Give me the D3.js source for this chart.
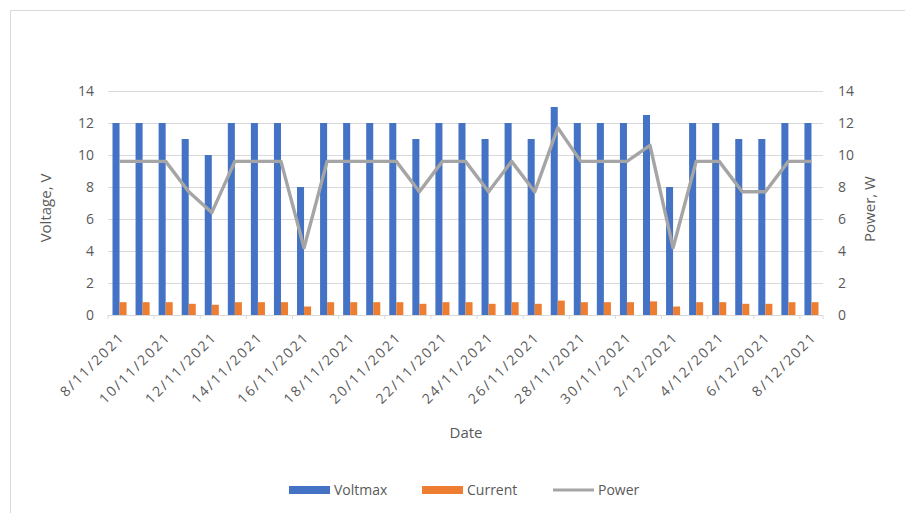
<!DOCTYPE html>
<html>
<head>
<meta charset="utf-8">
<script src="https://cdn.jsdelivr.net/npm/d3@7/dist/d3.min.js"></script>
<style>
  html, body { margin: 0; padding: 0; background: #fff; }
  svg { display: block; }
  text { font-family: "Open Sans", "Liberation Sans", sans-serif; fill: #595959; }
</style>
</head>
<body>
<svg id="chart" width="905" height="513"></svg>
<script>
// Daily measurements, 8 Nov 2021 – 8 Dec 2021
const dates = [
  "8/11/2021", "9/11/2021", "10/11/2021", "11/11/2021", "12/11/2021", "13/11/2021",
  "14/11/2021", "15/11/2021", "16/11/2021", "17/11/2021", "18/11/2021", "19/11/2021",
  "20/11/2021", "21/11/2021", "22/11/2021", "23/11/2021", "24/11/2021", "25/11/2021",
  "26/11/2021", "27/11/2021", "28/11/2021", "29/11/2021", "30/11/2021", "1/12/2021",
  "2/12/2021", "3/12/2021", "4/12/2021", "5/12/2021", "6/12/2021", "7/12/2021", "8/12/2021"
];
const voltmax = [12, 12, 12, 11, 10, 12, 12, 12, 8, 12, 12, 12, 12, 11, 12, 12, 11, 12, 11, 13,
                 12, 12, 12, 12.5, 8, 12, 12, 11, 11, 12, 12];
const current = [0.8, 0.8, 0.8, 0.7, 0.64, 0.8, 0.8, 0.8, 0.53, 0.8, 0.8, 0.8, 0.8, 0.7, 0.8, 0.8,
                 0.7, 0.8, 0.7, 0.9, 0.8, 0.8, 0.8, 0.85, 0.53, 0.8, 0.8, 0.7, 0.7, 0.8, 0.8];
const power = [9.6, 9.6, 9.6, 7.7, 6.4, 9.6, 9.6, 9.6, 4.2, 9.6, 9.6, 9.6, 9.6, 7.7, 9.6, 9.6,
               7.7, 9.6, 7.7, 11.7, 9.6, 9.6, 9.6, 10.6, 4.2, 9.6, 9.6, 7.7, 7.7, 9.6, 9.6];
const yTicks = [0, 2, 4, 6, 8, 10, 12, 14];
const seriesNames = ["Voltmax", "Current", "Power"];
const colors = { Voltmax: "#4472C4", Current: "#ED7D31", Power: "#A5A5A5" };

const svg = d3.select("#chart");

// chart frame
svg.append("path")
  .attr("d", "M10.5,513 V10.5 H905")
  .attr("fill", "none")
  .attr("stroke", "#d9d9d9")
  .attr("stroke-width", 1);

const plot = { left: 108, right: 823, top: 91, bottom: 315 };

const x = d3.scaleBand()
  .domain(dates)
  .range([plot.left, plot.right])
  .paddingInner(0.39)
  .paddingOuter(0.195);

const xSub = d3.scaleBand()
  .domain(["Voltmax", "Current"])
  .range([0, x.bandwidth()]);

const yLeft = d3.scaleLinear().domain([0, 14]).range([plot.bottom, plot.top]);
const yRight = d3.scaleLinear().domain([0, 14]).range([plot.bottom, plot.top]);

// horizontal gridlines
svg.append("g")
  .selectAll("line")
  .data(yTicks.filter(d => d > 0))
  .join("line")
  .attr("x1", plot.left).attr("x2", plot.right)
  .attr("y1", d => Math.round(yLeft(d)) + 0.5)
  .attr("y2", d => Math.round(yLeft(d)) + 0.5)
  .attr("stroke", "#d9d9d9")
  .attr("stroke-width", 1);

// left axis labels
const leftAxis = d3.axisLeft(yLeft).tickValues(yTicks).tickSize(0).tickPadding(14);
const gL = svg.append("g").attr("transform", `translate(${plot.left},0)`).call(leftAxis);
gL.select(".domain").remove();
gL.selectAll("text").style("font-size", "14px").attr("fill", "#595959");

// right axis labels
const rightAxis = d3.axisRight(yRight).tickValues(yTicks).tickSize(0).tickPadding(15);
const gR = svg.append("g").attr("transform", `translate(${plot.right},0)`).call(rightAxis);
gR.select(".domain").remove();
gR.selectAll("text").style("font-size", "14px").attr("fill", "#595959");

// bars
const bars = svg.append("g");
bars.selectAll("rect.volt")
  .data(voltmax)
  .join("rect")
  .attr("class", "volt")
  .attr("x", (d, i) => x(dates[i]) + xSub("Voltmax"))
  .attr("width", xSub.bandwidth())
  .attr("y", d => yLeft(d))
  .attr("height", d => yLeft(0) - yLeft(d))
  .attr("fill", colors.Voltmax);

bars.selectAll("rect.curr")
  .data(current)
  .join("rect")
  .attr("class", "curr")
  .attr("x", (d, i) => x(dates[i]) + xSub("Current"))
  .attr("width", xSub.bandwidth())
  .attr("y", d => yLeft(d))
  .attr("height", d => yLeft(0) - yLeft(d))
  .attr("fill", colors.Current);

// category axis baseline and labels (every second day)
const xAxis = d3.axisBottom(x)
  .tickValues(dates.filter((d, i) => i % 2 === 0))
  .tickSize(0)
  .tickPadding(0);
const gX = svg.append("g").attr("transform", `translate(0,${plot.bottom})`).call(xAxis);
gX.select(".domain").attr("stroke", "#d9d9d9").attr("d", `M${plot.left},0.5H${plot.right}`);
gX.selectAll("text")
  .style("font-size", "14px")
  .style("letter-spacing", "2px")
  .attr("fill", "#5f5f5f")
  .attr("text-anchor", "end")
  .attr("dy", "0")
  .attr("transform", "translate(6,23) rotate(-45)");

// small tick marks between category pairs
svg.append("g")
  .selectAll("line")
  .data(dates.filter((d, i) => i % 2 === 0).concat([null]))
  .join("line")
  .attr("x1", d => d ? x(d) - x.step() * x.paddingInner() / 2 : plot.right)
  .attr("x2", d => d ? x(d) - x.step() * x.paddingInner() / 2 : plot.right)
  .attr("y1", plot.bottom)
  .attr("y2", plot.bottom + 4)
  .attr("stroke", "#d9d9d9");

// power line on secondary axis
const line = d3.line()
  .x((d, i) => x(dates[i]) + x.bandwidth() / 2)
  .y(d => yRight(d));
svg.append("path")
  .datum(power)
  .attr("d", line)
  .attr("fill", "none")
  .attr("stroke", colors.Power)
  .attr("stroke-width", 3.4)
  .attr("stroke-linejoin", "round");

// axis titles
svg.append("text")
  .attr("transform", `translate(51,${(plot.top + plot.bottom) / 2 + 5}) rotate(-90)`)
  .attr("text-anchor", "middle")
  .style("font-size", "15px")
  .text("Voltage, V");

svg.append("text")
  .attr("transform", `translate(875,${(plot.top + plot.bottom) / 2 + 6}) rotate(-90)`)
  .attr("text-anchor", "middle")
  .style("font-size", "15px")
  .text("Power, W");

svg.append("text")
  .attr("x", 466)
  .attr("y", 438)
  .attr("text-anchor", "middle")
  .style("font-size", "15px")
  .text("Date");

// legend
const legendItems = [
  { name: seriesNames[0], x: 289, type: "rect" },
  { name: seriesNames[1], x: 422, type: "rect" },
  { name: seriesNames[2], x: 553, type: "line" }
];
const legend = svg.append("g");
legendItems.forEach(item => {
  if (item.type === "rect") {
    legend.append("rect")
      .attr("x", item.x).attr("y", 486)
      .attr("width", 41).attr("height", 8)
      .attr("fill", colors[item.name]);
  } else {
    legend.append("line")
      .attr("x1", item.x).attr("x2", item.x + 41)
      .attr("y1", 490).attr("y2", 490)
      .attr("stroke", colors[item.name])
      .attr("stroke-width", 3.2);
  }
  legend.append("text")
    .attr("x", item.x + 45)
    .attr("y", 495)
    .style("font-size", "14px")
    .text(item.name);
});
</script>
</body>
</html>
